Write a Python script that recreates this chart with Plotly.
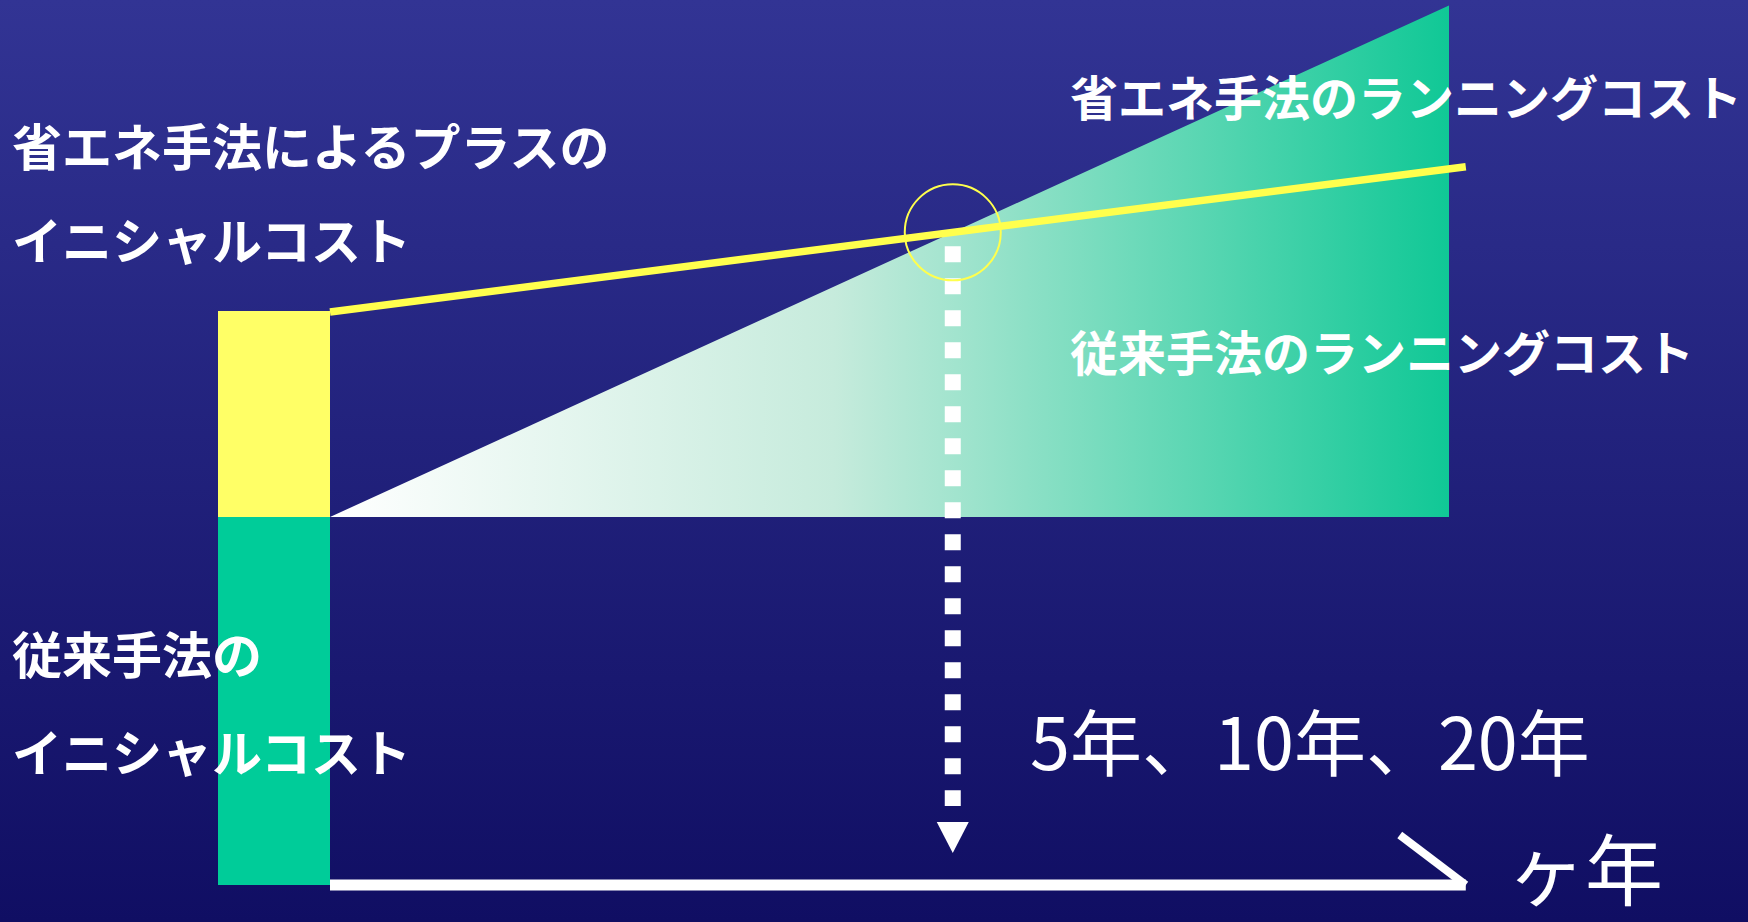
import base64
import plotly.graph_objects as go

# ---- schematic data (cost units vs. time units) ----
conv_initial = 100          # 従来手法のイニシャルコスト
extra_initial = 56          # 省エネ手法によるプラスのイニシャルコスト
period_end = 10.0           # end of running period drawn for the conventional method
conv_total_end = 239        # conventional total cost at period_end
saving_t = [0.0, 10.15]     # energy-saving total cost line (time)
saving_cost = [155.7, 195.2]  # energy-saving total cost line (cost)
axis_end = 10.15
barb_t = [9.56, 10.15]
barb_cost = [13.6, 0]
dash_cost = [173.6, 21.5]
arrow_head_cost = [17.1, 8.7]

labels_left_top = ["省エネ手法によるプラスの", "イニシャルコスト"]
labels_left_bottom = ["従来手法の", "イニシャルコスト"]
label_saving_running = "省エネ手法のランニングコスト"
label_conv_running = "従来手法のランニングコスト"
label_years = "5年、10年、20年"
label_axis = "ヶ年"

# ---- geometry of the canvas ----
W, H = 1748, 922
PX, PY = 111.9, 3.68
X0, X1 = -330 / PX, (W - 330) / PX
Y0, Y1 = -(H - 885) / PY, 885 / PY

# payback point: intersection of the two total-cost lines
conv_slope = (conv_total_end - conv_initial) / period_end
sav_slope = (saving_cost[1] - saving_cost[0]) / (saving_t[1] - saving_t[0])
t_cross = (saving_cost[0] - conv_initial) / (conv_slope - sav_slope)
c_cross = conv_initial + conv_slope * t_cross

fig = go.Figure()

# background gradient as an inline SVG image
svg = (f'<svg xmlns="http://www.w3.org/2000/svg" width="{W}" height="{H}" '
       f'viewBox="0 0 {W} {H}" preserveAspectRatio="none">'
       '<defs><linearGradient id="g" x1="0" y1="0" x2="0" y2="1">'
       '<stop offset="0" stop-color="#323494"/><stop offset="1" stop-color="#100e63"/>'
       '</linearGradient></defs>'
       f'<rect width="{W}" height="{H}" fill="url(#g)"/></svg>')
bg_src = "data:image/svg+xml;base64," + base64.b64encode(svg.encode()).decode()
fig.add_layout_image(source=bg_src, xref="paper", yref="paper", x=0, y=1,
                     sizex=1, sizey=1, sizing="stretch", layer="below",
                     xanchor="left", yanchor="top")

# conventional running cost wedge
fig.add_trace(go.Scatter(
    x=[0, period_end, period_end, 0],
    y=[conv_initial, conv_total_end, conv_initial, conv_initial],
    mode="lines", line=dict(width=0), fill="toself",
    fillgradient=dict(type="horizontal", start=0, stop=period_end,
                      colorscale=[[0, "#ffffff"], [0.45, "#c6ebdc"], [1, "#10c896"]]),
    hoverinfo="skip", showlegend=False))

# initial cost bars
fig.add_trace(go.Bar(x=[-0.5], y=[conv_initial], base=[0], width=[1.0],
                     marker=dict(color="#00cc99", line=dict(width=0)), showlegend=False))
fig.add_trace(go.Bar(x=[-0.5], y=[extra_initial], base=[conv_initial], width=[1.0],
                     marker=dict(color="#ffff66", line=dict(width=0)), showlegend=False))

# energy-saving total cost line
fig.add_trace(go.Scatter(x=saving_t, y=saving_cost, mode="lines",
                         line=dict(color="#ffff4d", width=7.5), showlegend=False))

# time axis with barb
fig.add_trace(go.Scatter(x=[0, axis_end], y=[0, 0], mode="lines",
                         line=dict(color="white", width=11), showlegend=False))
fig.add_trace(go.Scatter(x=barb_t, y=barb_cost, mode="lines",
                         line=dict(color="white", width=8), showlegend=False))

# dotted drop line and arrow head
fig.add_trace(go.Scatter(x=[t_cross, t_cross], y=dash_cost, mode="lines",
                         line=dict(color="white", width=16, dash="16px,16px"),
                         showlegend=False))
hw = 16 / PX
fig.add_trace(go.Scatter(
    x=[t_cross - hw, t_cross + hw, t_cross, t_cross - hw],
    y=[arrow_head_cost[0], arrow_head_cost[0], arrow_head_cost[1], arrow_head_cost[0]],
    mode="lines", line=dict(width=0), fill="toself", fillcolor="white",
    hoverinfo="skip", showlegend=False))

# circle at payback point
rx, ry = 48 / PX, 48 / PY
fig.add_shape(type="circle", xref="x", yref="y",
              x0=t_cross - rx, x1=t_cross + rx, y0=c_cross - ry, y1=c_cross + ry,
              line=dict(color="#ffff4d", width=2), layer="above")

def ann(text, px, py, size, bold=True, xanchor="left"):
    fig.add_annotation(text=text, x=px / W, y=1 - py / H, xref="paper", yref="paper",
                       xanchor=xanchor, yanchor="middle", showarrow=False,
                       font=dict(family="Noto Sans CJK JP", size=size, color="white",
                                 weight=700 if bold else 400))

ann(labels_left_top[0], 10, 144, 50)
ann(labels_left_top[1], 10, 238, 50)
ann(label_saving_running, 1068, 95, 48)
ann(label_conv_running, 1068, 350, 48)
ann(labels_left_bottom[0], 10, 652, 50)
ann(labels_left_bottom[1], 10, 750, 50)
ann(label_years, 1310, 738, 72, bold=False, xanchor="center")
ann(label_axis, 1505, 866, 78, bold=False)

fig.update_layout(
    width=W, height=H, margin=dict(l=0, r=0, t=0, b=0),
    paper_bgcolor="#100e63", plot_bgcolor="rgba(0,0,0,0)",
    barmode="overlay", bargap=0,
    xaxis=dict(range=[X0, X1], visible=False, fixedrange=True),
    yaxis=dict(range=[Y0, Y1], visible=False, fixedrange=True),
    showlegend=False,
)

fig.write_html("out.html", config={"displayModeBar": False},
               post_script="document.body.style.margin='0';"
                           "document.body.style.overflow='hidden';"
                           "document.body.style.background='#100e63';")
